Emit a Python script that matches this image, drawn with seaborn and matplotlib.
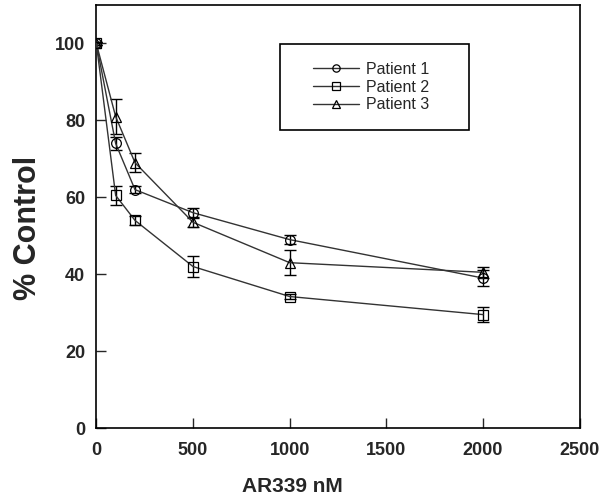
import numpy as np
import pandas as pd
import matplotlib
matplotlib.use('Agg')
import matplotlib.pyplot as plt
import seaborn as sns
from matplotlib.patches import Rectangle

# dose (nM)
dose = [0, 100, 200, 500, 1000, 2000]

# % control for each patient
p1 = [100, 74, 62, 56, 49, 39]
p2 = [100, 60.5, 54, 42, 34.2, 29.5]
p3 = [100, 81, 69, 53.5, 43, 40.5]

# error bars (+/-)
p1_err = [0.5, 1.8, 1.0, 1.2, 1.2, 2.0]
p2_err = [0.5, 2.5, 1.2, 2.8, 0.6, 2.0]
p3_err = [0.5, 4.5, 2.5, 1.2, 3.2, 1.5]

patients = ['Patient 1', 'Patient 2', 'Patient 3']

df = pd.DataFrame({
    'dose': dose * 3,
    'pct': p1 + p2 + p3,
    'err': p1_err + p2_err + p3_err,
    'Patient': [p for p in patients for _ in dose],
})

sns.set_style('ticks')
plt.rcParams['font.family'] = ['Liberation Sans', 'DejaVu Sans']

fig, ax = plt.subplots(figsize=(6.02, 5.03), dpi=100)
fig.subplots_adjust(left=0.16, right=0.963, top=0.99, bottom=0.149)

mk = {'Patient 1': 'o', 'Patient 2': 's', 'Patient 3': '^'}

# error bars first, then lines + markers
for p in patients:
    d = df[df['Patient'] == p]
    ax.errorbar(d['dose'], d['pct'], yerr=d['err'], fmt='none', ecolor='black',
                elinewidth=1, capsize=4, capthick=1, zorder=2)

sns.lineplot(data=df, x='dose', y='pct', style='Patient', markers=mk, dashes=False,
             color='#333333', linewidth=1, markersize=7, markerfacecolor='none',
             markeredgecolor='black', markeredgewidth=0.9, ax=ax, zorder=3)

ax.set_xlim(0, 2500)
ax.set_ylim(0, 110)
ax.set_xticks([0, 500, 1000, 1500, 2000, 2500])
ax.set_yticks([0, 20, 40, 60, 80, 100])
ax.tick_params(direction='in', length=7, width=1, labelsize=13, pad=8)
ax.tick_params(axis='x', pad=10)
for lab in ax.get_xticklabels() + ax.get_yticklabels():
    lab.set_fontweight('bold')
for s in ax.spines.values():
    s.set_linewidth(1.2)
    s.set_color('black')

ax.set_xlabel('AR339 nM', fontsize=15, fontweight='bold')
ax.xaxis.set_label_coords(0.405, -0.115)
ax.set_ylabel('% Control', fontsize=22, fontweight='bold')
ax.yaxis.set_label_coords(-0.111, 0.473)

# legend box
ax.add_patch(Rectangle((0.38, 0.705), 0.39, 0.203, transform=ax.transAxes,
                       fill=False, edgecolor='black', linewidth=1.2, zorder=5))
leg = ax.legend(loc='center left', bbox_to_anchor=(0.448, 0.806), frameon=False,
                fontsize=11.5, handlelength=2.9, markerscale=0.75,
                borderpad=0, labelspacing=0.17, handletextpad=0.4, borderaxespad=0)

plt.savefig('out.png', dpi=100)
